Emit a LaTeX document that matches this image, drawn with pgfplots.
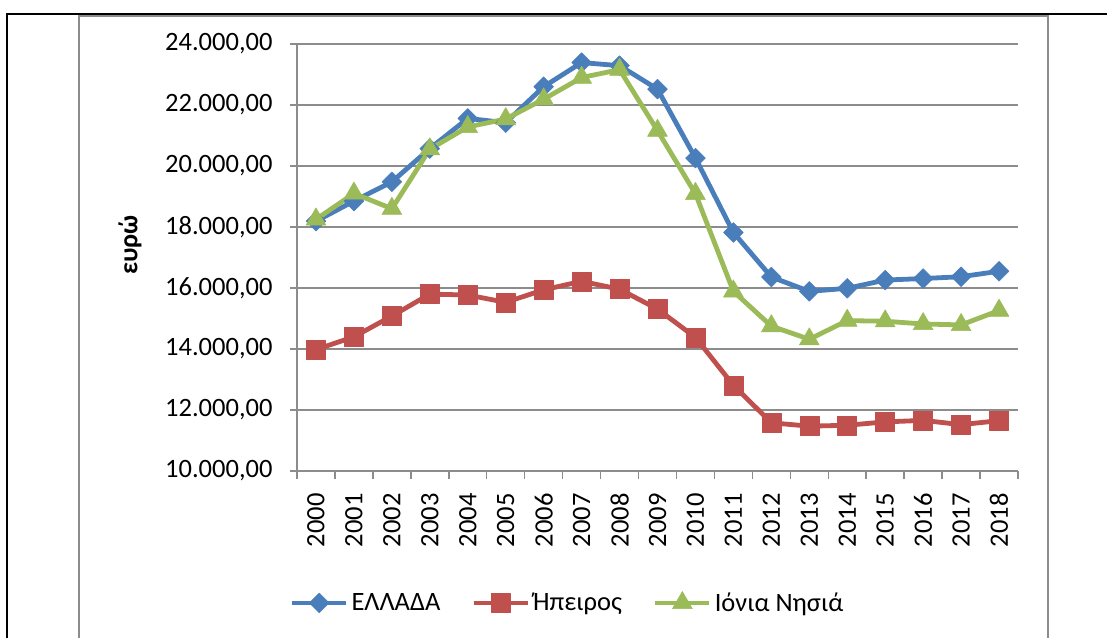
\documentclass[border=0pt]{standalone}
\usepackage{pgfplots}
\pgfplotsset{compat=1.18}
\usepackage{fontspec}
\setmainfont{Carlito}
\definecolor{cBlue}{RGB}{74,126,187}
\definecolor{cRed}{RGB}{192,80,77}
\definecolor{cGreen}{RGB}{155,187,89}
\definecolor{gridc}{RGB}{140,140,140}
\newcommand{\bigf}{\fontsize{26.5}{30}\selectfont}
\begin{document}
\begin{tikzpicture}[x=1pt,y=1pt]
\draw[black, line width=1.3pt] (6.35,623) -- (1107,623);
\draw[black, line width=1.3pt] (7,623.65) -- (7,-2);
\draw[gridc, line width=2.2pt] (79,-2) -- (79,621) -- (1048,621) -- (1048,-2);
\begin{axis}[
  at={(297pt,166pt)}, anchor=south west,
  scale only axis, width=721pt, height=427pt,
  xmin=-0.5, xmax=18.5, ymin=10000, ymax=24000,
  ytick={10000,12000,...,24000},
  xtick={0,...,18},
  xticklabels={2000,2001,2002,2003,2004,2005,2006,2007,2008,2009,2010,2011,2012,2013,2014,2015,2016,2017,2018},
  minor xtick={-0.5,0.5,...,18.5},
  major x tick style={draw=none},
  tick align=outside,
  major tick length=7pt, minor tick length=8pt,
  tick style={gridc, line width=1.5pt},
  axis x line*=bottom, axis y line*=left,
  axis line style={gridc, line width=1.5pt},
  ymajorgrids, major grid style={gridc, line width=1.5pt},
  scaled y ticks=false,
  tick label style={font=\bigf},
  yticklabel style={xshift=-14pt, /pgf/number format/fixed, /pgf/number format/fixed zerofill,
    /pgf/number format/precision=2, /pgf/number format/use comma,
    /pgf/number format/1000 sep={.}, /pgf/number format/assume math mode=true},
  xticklabel style={rotate=90, anchor=east, xshift=-12pt},
  ylabel={\bfseries ευρώ},
  ylabel style={font=\bigf, at={(axis description cs:-0.2316,0.529)}, anchor=center},
  clip=false,
  legend columns=3,
  legend style={at={(axis description cs:0.376,-0.309)}, anchor=center, draw=none, fill=none,
    font=\bigf, /tikz/every even column/.append style={column sep=28pt},
    nodes={inner sep=3pt}},
  legend image code/.code={\draw[mark repeat=2, mark phase=2, #1] plot coordinates {(0pt,0pt) (27pt,0pt) (54pt,0pt)};},
  every axis plot/.append style={line width=4.8pt, line join=round},
]
\addplot[cBlue, mark=square*, mark size=7pt, mark options={rotate=45, solid, line width=0.5pt}] coordinates {
(0,18190) (1,18850) (2,19480) (3,20570) (4,21560) (5,21420) (6,22600) (7,23390) (8,23290) (9,22520)
(10,20260) (11,17820) (12,16360) (13,15890) (14,15990) (15,16260) (16,16310) (17,16370) (18,16550)};
\addlegendentry{ΕΛΛΑΔΑ}
\addplot[cRed, mark=square*, mark size=9.5pt, mark options={solid, line width=0.5pt}] coordinates {
(0,13980) (1,14400) (2,15080) (3,15800) (4,15770) (5,15530) (6,15940) (7,16220) (8,15960) (9,15310)
(10,14380) (11,12810) (12,11580) (13,11470) (14,11500) (15,11610) (16,11660) (17,11520) (18,11650)};
\addlegendentry{Ήπειρος}
\addplot[cGreen, mark=triangle*, mark size=11.5pt, mark options={solid, line width=0.5pt}] coordinates {
(0,18250) (1,19100) (2,18600) (3,20550) (4,21280) (5,21540) (6,22190) (7,22900) (8,23160) (9,21160)
(10,19090) (11,15890) (12,14750) (13,14320) (14,14930) (15,14910) (16,14820) (17,14790) (18,15260)};
\addlegendentry{Ιόνια Νησιά}
\end{axis}
\pgfresetboundingbox
\path[use as bounding box] (0,0) rectangle (1107,637);
\end{tikzpicture}
\end{document}
